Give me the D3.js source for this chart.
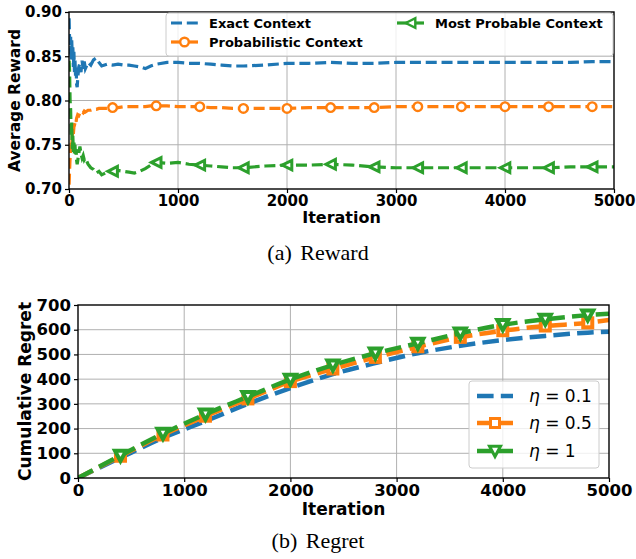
<!DOCTYPE html>
<html>
<head>
<meta charset="utf-8">
<script src="https://cdn.jsdelivr.net/npm/d3@7"></script>
<style>
  body { margin: 0; background: #fff; }
  svg text { font-family: "DejaVu Sans", sans-serif; }
  .tick text { font-weight: bold; fill: #000; }
  .tick line { stroke: #000; }
  .grid line { stroke: #b0b0b0; stroke-width: 1; }
  .caption { font-family: "Liberation Serif", "Times New Roman", serif; }
</style>
</head>
<body>
<svg id="fig" width="636" height="559"></svg>
<script>
// ---- data: (a) Reward ----
const rewardIter = [1, 5, 10, 15, 20, 25, 30, 35, 40, 45, 50, 55, 60, 65, 70, 75, 80, 90, 100,
  110, 120, 130, 140, 150, 175, 200, 225, 250, 275, 300, 350, 400, 450, 500, 550, 600, 650,
  700, 750, 800, 900, 1000, 1100, 1200, 1300, 1400, 1500, 1600, 1800, 2000, 2200, 2400, 2600,
  2800, 3000, 3200, 3400, 3600, 3800, 4000, 4200, 4400, 4600, 4800, 5000];
const exactReward = [0.893, 0.870, 0.852, 0.872, 0.845, 0.868, 0.850, 0.862, 0.838, 0.855, 0.832,
  0.845, 0.828, 0.840, 0.818, 0.815, 0.825, 0.838, 0.842, 0.832, 0.845, 0.836, 0.844, 0.836,
  0.843, 0.840, 0.846, 0.848, 0.843, 0.839, 0.841, 0.840, 0.841, 0.840, 0.840, 0.839, 0.838,
  0.836, 0.839, 0.841, 0.843, 0.843, 0.842, 0.842, 0.841, 0.840, 0.839, 0.839, 0.840, 0.842,
  0.842, 0.843, 0.842, 0.842, 0.843, 0.843, 0.843, 0.843, 0.843, 0.843, 0.843, 0.843, 0.843,
  0.844, 0.844];
const probReward = [0.705, 0.720, 0.735, 0.745, 0.752, 0.748, 0.760, 0.765, 0.762, 0.770, 0.772,
  0.775, 0.778, 0.776, 0.780, 0.782, 0.784, 0.783, 0.786, 0.785, 0.787, 0.786, 0.788, 0.787,
  0.789, 0.789, 0.790, 0.790, 0.791, 0.791, 0.791, 0.792, 0.792, 0.793, 0.793, 0.793, 0.793,
  0.793, 0.794, 0.794, 0.794, 0.793, 0.793, 0.793, 0.792, 0.792, 0.791, 0.791, 0.791, 0.791,
  0.792, 0.792, 0.792, 0.792, 0.793, 0.793, 0.793, 0.793, 0.793, 0.793, 0.793, 0.793, 0.793,
  0.793, 0.793];
const mostProbReward = [0.845, 0.835, 0.800, 0.790, 0.760, 0.775, 0.745, 0.760, 0.742, 0.755, 0.740,
  0.750, 0.738, 0.745, 0.732, 0.728, 0.732, 0.740, 0.748, 0.740, 0.735, 0.738, 0.733, 0.735,
  0.728, 0.724, 0.722, 0.718, 0.720, 0.716, 0.719, 0.720, 0.721, 0.720, 0.719, 0.718, 0.720,
  0.723, 0.727, 0.730, 0.729, 0.730, 0.728, 0.727, 0.726, 0.725, 0.724, 0.724, 0.726, 0.727,
  0.727, 0.728, 0.727, 0.725, 0.724, 0.724, 0.724, 0.724, 0.724, 0.724, 0.724, 0.724, 0.725,
  0.725, 0.725];
const rewardXTicks = [0, 1000, 2000, 3000, 4000, 5000];
const rewardYTicks = [0.70, 0.75, 0.80, 0.85, 0.90];

// ---- data: (b) Regret ----
const regretIter = [0, 400, 800, 1200, 1600, 2000, 2400, 2800, 3200, 3600, 4000, 4400, 4800, 5000];
const regretEta01 = [0, 82, 162, 230, 300, 364, 420, 465, 505, 535, 558, 575, 588, 592];
const regretEta05 = [0, 88, 174, 250, 320, 390, 441, 488, 531, 569, 596, 615, 628, 639];
const regretEta1 = [0, 91, 180, 258, 329, 399, 457, 505, 545, 586, 620, 642, 659, 665];
const regretXTicks = [0, 1000, 2000, 3000, 4000, 5000];
const regretYTicks = [0, 100, 200, 300, 400, 500, 600, 700];

const blue = '#1f77b4', orange = '#ff7f0e', green = '#2ca02c';

let svg = d3.select('#fig');

function triPath(dir, s) {
  // dir: 'left' or 'down'
  if (dir === 'left') return `M${-s},0L${s},${-s}L${s},${s}Z`;
  return `M${-s},${-s * 0.85}L${s},${-s * 0.85}L0,${s}Z`;
}

// draws grid and axes for one panel, returns group for plotting
function panel(box, x, y, xTicks, yTicks, yFmt, tickFont, id) {
  let g = svg.append('g');

  g.append('defs').append('clipPath').attr('id', id)
    .append('rect')
    .attr('x', box.left).attr('y', box.top)
    .attr('width', box.right - box.left).attr('height', box.bottom - box.top);

  let grid = g.append('g').attr('class', 'grid');
  grid.selectAll('.gx').data(xTicks.slice(1, -1)).enter().append('line')
    .attr('x1', d => x(d)).attr('x2', d => x(d))
    .attr('y1', box.top).attr('y2', box.bottom);
  grid.selectAll('.gy').data(yTicks.slice(1, -1)).enter().append('line')
    .attr('y1', d => y(d)).attr('y2', d => y(d))
    .attr('x1', box.left).attr('x2', box.right);

  let xAxis = g.append('g')
    .attr('transform', `translate(0,${box.bottom})`)
    .call(d3.axisBottom(x).tickValues(xTicks).tickSize(4).tickPadding(2).tickFormat(d3.format('d')));
  let yAxis = g.append('g')
    .attr('transform', `translate(${box.left},0)`)
    .call(d3.axisLeft(y).tickValues(yTicks).tickSize(4).tickPadding(3).tickFormat(yFmt));
  [xAxis, yAxis].forEach(a => {
    a.select('.domain').remove();
    a.selectAll('.tick text').style('font-size', tickFont + 'px');
    a.selectAll('.tick line').attr('stroke-width', 1.2);
  });

  let plot = g.append('g').attr('clip-path', `url(#${id})`);
  return { g: g, plot: plot };
}

function frame(g, box) {
  g.append('rect')
    .attr('x', box.left).attr('y', box.top)
    .attr('width', box.right - box.left).attr('height', box.bottom - box.top)
    .attr('fill', 'none').attr('stroke', '#000').attr('stroke-width', 1.4);
}

// ================= (a) Reward =================
let boxA = { left: 69, right: 614, top: 12, bottom: 189 };
let xA = d3.scaleLinear().domain([0, 5000]).range([boxA.left, boxA.right]);
let yA = d3.scaleLinear().domain([0.70, 0.90]).range([boxA.bottom, boxA.top]);
let pA = panel(boxA, xA, yA, rewardXTicks, rewardYTicks, d3.format('.2f'), 15, 'clipA');

let lineA = d3.line().x(d => xA(d[0])).y(d => yA(d[1]));
let seriesA = [
  { vals: exactReward, color: blue, mark: null },
  { vals: probReward, color: orange, mark: 'circle' },
  { vals: mostProbReward, color: green, mark: 'tri' }
];
seriesA.forEach(s => {
  let pts = rewardIter.map((it, i) => [it, s.vals[i]]);
  pA.plot.append('path')
    .attr('d', lineA(pts))
    .attr('fill', 'none')
    .attr('stroke', s.color)
    .attr('stroke-width', 3.2)
    .attr('stroke-dasharray', '11,4.8');
  if (s.mark) {
    let mpts = pts.filter(p => p[0] % 400 === 0);
    let m = pA.plot.selectAll(null).data(mpts).enter().append('g')
      .attr('transform', p => `translate(${xA(p[0])},${yA(p[1])})`);
    if (s.mark === 'circle') {
      m.append('circle').attr('r', 4.3);
    } else {
      m.append('path').attr('d', triPath('left', 4.8));
    }
    m.selectAll('*').attr('fill', '#fff').attr('stroke', s.color)
      .attr('stroke-width', s.mark === 'circle' ? 2.4 : 3);
  }
});
frame(pA.g, boxA);

// legend (a)
let legA = pA.g.append('g');
legA.append('rect')
  .attr('x', 166).attr('y', 13).attr('width', 447).attr('height', 43)
  .attr('rx', 3).attr('fill', '#fff').attr('fill-opacity', 0.8)
  .attr('stroke', '#cccccc').attr('stroke-width', 1);
let legItemsA = [
  { label: 'Exact Context', color: blue, mark: null, x: 171, y: 23 },
  { label: 'Probabilistic Context', color: orange, mark: 'circle', x: 171, y: 42 },
  { label: 'Most Probable Context', color: green, mark: 'tri', x: 397, y: 23 }
];
legItemsA.forEach(d => {
  let it = legA.append('g');
  it.append('line')
    .attr('x1', d.x).attr('x2', d.x + 27).attr('y1', d.y).attr('y2', d.y)
    .attr('stroke', d.color).attr('stroke-width', 3.2)
    .attr('stroke-dasharray', d.mark ? null : '11,4.8');
  if (d.mark === 'circle') {
    it.append('circle').attr('cx', d.x + 13.5).attr('cy', d.y).attr('r', 4.3)
      .attr('fill', '#fff').attr('stroke', d.color).attr('stroke-width', 2.4);
  } else if (d.mark === 'tri') {
    it.append('path').attr('d', triPath('left', 4.8))
      .attr('transform', `translate(${d.x + 13.5},${d.y})`)
      .attr('fill', '#fff').attr('stroke', d.color).attr('stroke-width', 2.4);
  }
  it.append('text')
    .attr('x', d.x + 38).attr('y', d.y).attr('dy', '0.36em')
    .style('font-size', '13px').style('font-weight', 'bold')
    .text(d.label);
});

pA.g.append('text')
  .attr('x', (boxA.left + boxA.right) / 2).attr('y', 223)
  .attr('text-anchor', 'middle')
  .style('font-size', '16px').style('font-weight', 'bold')
  .text('Iteration');
pA.g.append('text')
  .attr('transform', `translate(20,${(boxA.top + boxA.bottom) / 2}) rotate(-90)`)
  .attr('text-anchor', 'middle')
  .style('font-size', '15.5px').style('font-weight', 'bold')
  .text('Average Reward');

svg.append('text').attr('class', 'caption')
  .attr('x', 318).attr('y', 260).attr('text-anchor', 'middle')
  .style('font-size', '22px').style('word-spacing', '3px')
  .text('(a) Reward');

// ================= (b) Regret =================
let boxB = { left: 78, right: 609, top: 305, bottom: 478 };
let xB = d3.scaleLinear().domain([0, 5000]).range([boxB.left, boxB.right]);
let yB = d3.scaleLinear().domain([0, 700]).range([boxB.bottom, boxB.top]);
let pB = panel(boxB, xB, yB, regretXTicks, regretYTicks, d3.format('d'), 16.5, 'clipB');

let lineB = d3.line().curve(d3.curveMonotoneX).x(d => xB(d[0])).y(d => yB(d[1]));
let seriesB = [
  { vals: regretEta01, color: blue, mark: null, label: '0.1' },
  { vals: regretEta05, color: orange, mark: 'square', label: '0.5' },
  { vals: regretEta1, color: green, mark: 'tri', label: '1' }
];
seriesB.forEach(s => {
  let pts = regretIter.map((it, i) => [it, s.vals[i]]);
  pB.plot.append('path')
    .attr('d', lineB(pts))
    .attr('fill', 'none')
    .attr('stroke', s.color)
    .attr('stroke-width', 4.5)
    .attr('stroke-dasharray', '16.6,7.2');
  if (s.mark) {
    let mpts = pts.filter(p => p[0] % 400 === 0 && p[0] > 0);
    let m = pB.plot.selectAll(null).data(mpts).enter().append('g')
      .attr('transform', p => `translate(${xB(p[0])},${yB(p[1])})`);
    if (s.mark === 'square') {
      m.append('rect').attr('x', -4.5).attr('y', -4.5).attr('width', 9).attr('height', 9);
    } else {
      m.append('path').attr('d', triPath('down', 5.5));
    }
    m.selectAll('*').attr('fill', '#fff').attr('stroke', s.color).attr('stroke-width', 4);
  }
});
frame(pB.g, boxB);

// legend (b)
let legB = pB.g.append('g');
legB.append('rect')
  .attr('x', 469).attr('y', 381).attr('width', 130).attr('height', 87)
  .attr('rx', 3).attr('fill', '#fff').attr('fill-opacity', 0.8)
  .attr('stroke', '#cccccc').attr('stroke-width', 1);
let legRowsB = [396, 423, 451];
seriesB.forEach((s, i) => {
  let y0 = legRowsB[i];
  let it = legB.append('g');
  it.append('line')
    .attr('x1', 477).attr('x2', 513).attr('y1', y0).attr('y2', y0)
    .attr('stroke', s.color).attr('stroke-width', 4.5)
    .attr('stroke-dasharray', s.mark ? null : '16.6,7.2');
  if (s.mark === 'square') {
    it.append('rect').attr('x', 490.5).attr('y', y0 - 4.5).attr('width', 9).attr('height', 9)
      .attr('fill', '#fff').attr('stroke', s.color).attr('stroke-width', 3);
  } else if (s.mark === 'tri') {
    it.append('path').attr('d', triPath('down', 5.5))
      .attr('transform', `translate(495,${y0})`)
      .attr('fill', '#fff').attr('stroke', s.color).attr('stroke-width', 3);
  }
  let t = it.append('text')
    .attr('x', 529).attr('y', y0).attr('dy', '0.36em')
    .style('font-size', '17px');
  t.append('tspan').style('font-style', 'italic').text('η');
  t.append('tspan').text(' = ' + s.label);
});

pB.g.append('text')
  .attr('x', (boxB.left + boxB.right) / 2).attr('y', 515)
  .attr('text-anchor', 'middle')
  .style('font-size', '17px').style('font-weight', 'bold')
  .text('Iteration');
pB.g.append('text')
  .attr('transform', `translate(31,${(boxB.top + boxB.bottom) / 2}) rotate(-90)`)
  .attr('text-anchor', 'middle')
  .style('font-size', '17px').style('font-weight', 'bold')
  .text('Cumulative Regret');

svg.append('text').attr('class', 'caption')
  .attr('x', 318).attr('y', 548).attr('text-anchor', 'middle')
  .style('font-size', '22px').style('word-spacing', '3px')
  .text('(b) Regret');
</script>
</body>
</html>
